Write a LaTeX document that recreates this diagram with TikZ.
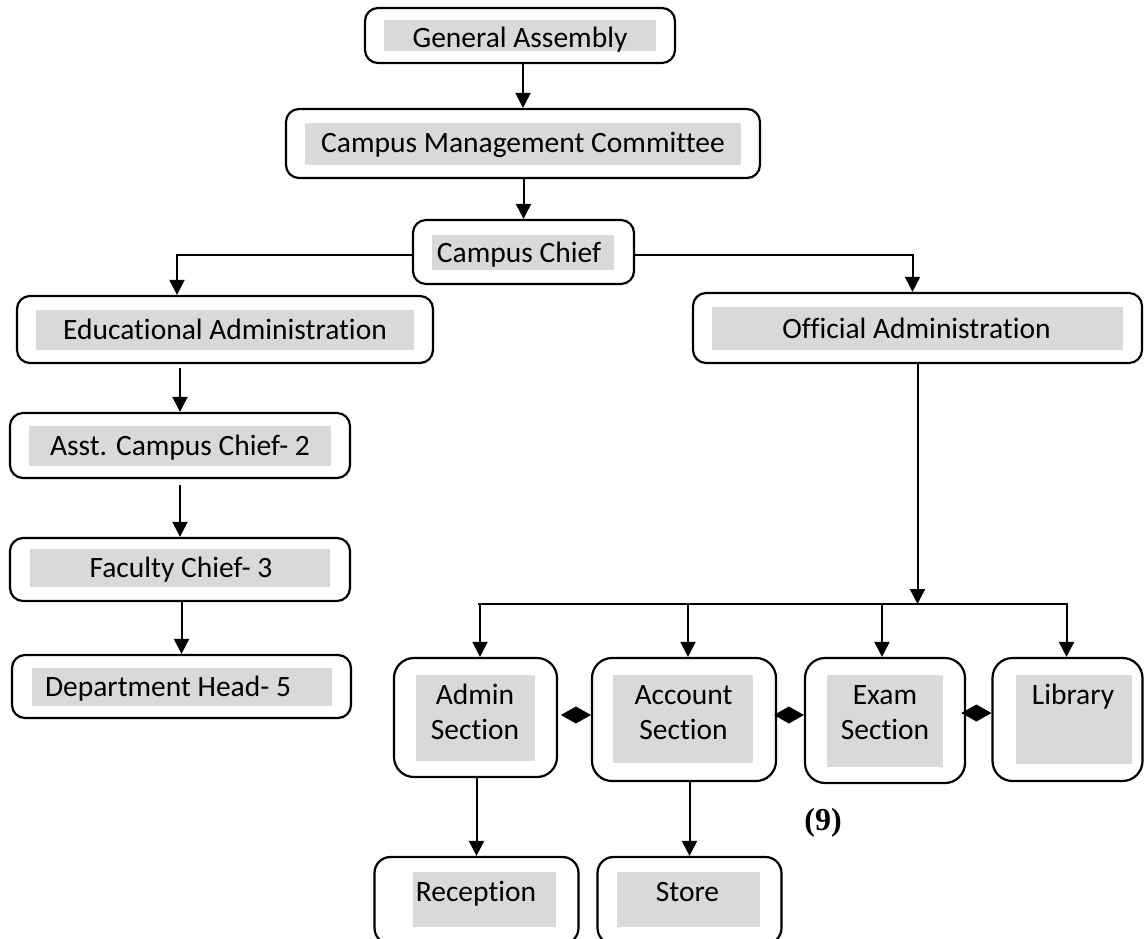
\documentclass[tikz,border=0pt]{standalone}
\usepackage{fontspec}
\setmainfont{Carlito}[Ligatures=NoCommon]
\newfontfamily\numfont{Liberation Serif}
\usetikzlibrary{arrows.meta}
\definecolor{boxgray}{HTML}{D9D9D9}
\begin{document}
\begin{tikzpicture}[x=1pt,y=-1pt,
  obox/.style={draw=black, line width=2.2pt, rounded corners=13pt, inner sep=0pt},
  sbox/.style={obox, rounded corners=20pt},
  txt/.style={inner sep=0pt, anchor=base, font=\fontsize{29.5pt}{35pt}\selectfont},
  numtxt/.style={inner sep=0pt, anchor=base, font=\numfont\bfseries\fontsize{32pt}{35pt}\selectfont},
  conn/.style={line width=2pt},
  arr/.style={conn, -{Triangle[width=15pt,length=15pt]}},
  dia/.style={line width=1pt, -{Diamond[width=17pt,length=30pt]}}
]
\useasboundingbox (0,0) rectangle (1144,939);

% outer boxes
\node[obox, minimum width=310pt, minimum height=55pt] (ga) at (520,35.5) {};
\node[obox, minimum width=474pt, minimum height=69pt] (cmc) at (523,143.5) {};
\node[obox, minimum width=221pt, minimum height=64pt] (cc) at (523.5,252) {};
\node[obox, minimum width=416pt, minimum height=67pt] (ea) at (225,329.5) {};
\node[obox, minimum width=449pt, minimum height=70pt] (oa) at (917.5,328) {};
\node[obox, minimum width=340pt, minimum height=65pt] (asst) at (180,445.5) {};
\node[obox, minimum width=340pt, minimum height=63pt] (fac) at (180,569.5) {};
\node[obox, minimum width=339pt, minimum height=63pt] (dept) at (181.5,686.5) {};
\node[sbox, minimum width=163pt, minimum height=119pt] (adm) at (475.5,717.5) {};
\node[sbox, minimum width=184pt, minimum height=123pt] (acc) at (684,719.5) {};
\node[sbox, minimum width=160pt, minimum height=125pt] (exam) at (885,720.5) {};
\node[sbox, minimum width=150pt, minimum height=123pt] (lib) at (1067.5,719.5) {};
\node[obox, rounded corners=16pt, minimum width=204pt, minimum height=87pt] (rec) at (476.5,900.5) {};
\node[obox, rounded corners=16pt, minimum width=184pt, minimum height=87pt] (sto) at (689.5,900.5) {};

% gray text backgrounds
\fill[boxgray] (384,20) rectangle (656,51);
\fill[boxgray] (305,123) rectangle (741,165);
\fill[boxgray] (432,235) rectangle (614,270);
\fill[boxgray] (36,310) rectangle (414,350);
\fill[boxgray] (712,307) rectangle (1123,350);
\fill[boxgray] (29,426) rectangle (331,466);
\fill[boxgray] (30,549) rectangle (330,587);
\fill[boxgray] (32,668) rectangle (332,706);
\fill[boxgray] (416,675) rectangle (535,761);
\fill[boxgray] (613,675) rectangle (753,763);
\fill[boxgray] (827,675) rectangle (943,767);
\fill[boxgray] (1016,675) rectangle (1132,764);
\fill[boxgray] (413,872) rectangle (556,927);
\fill[boxgray] (617,872) rectangle (760,927);

% texts
\node[txt] (gat) at (520,48) {General Assembly};
\node[txt] (cmct) at (523,153) {Campus Management Committee};
\node[txt] (cct) at (519,262) {Campus Chief};
\node[txt] (eat) at (225,339.5) {Educational Administration};
\node[txt] (oat) at (916.5,338) {Official Administration};
\node[txt] (asstt) at (180,455.5) {Asst. Campus Chief- 2};
\node[txt] (fact) at (181,577.5) {Faculty Chief- 3};
\node[txt] (deptt) at (168,696) {Department Head- 5};
\node[txt] (admt1) at (475,704) {Admin};
\node[txt] (admt2) at (475,739) {Section};
\node[txt] (acct1) at (683.5,704) {Account};
\node[txt] (acct2) at (683.5,739) {Section};
\node[txt] (examt1) at (885,704) {Exam};
\node[txt] (examt2) at (885,739) {Section};
\node[txt] (libt) at (1073,704) {Library};
\node[txt] (rect) at (476,901) {Reception};
\node[txt] (stot) at (687.5,901) {Store};
\node[numtxt] (nine) at (823,830) {(9)};

% connectors
\draw[arr] (cmc.north |- ga.south) -- (cmc.north);
\draw[arr] (cc.north |- cmc.south) -- (cc.north);
\draw[arr] ([yshift=-3pt]cc.west) -| ([xshift=-48pt]ea.north);
\draw[arr] ([yshift=-3pt]cc.east) -| ([xshift=-5pt]oa.north);
\draw[arr, shorten <=4pt] (asst.north |- ea.south) -- (asst.north);
\draw[arr, shorten <=6pt] (fac.north |- asst.south) -- (fac.north);
\draw[arr] (dept.north |- fac.south) -- (dept.north);

\coordinate (busL) at (478,604);
\coordinate (busR) at (1067.5,604);
\coordinate (tA) at (480,604);
\coordinate (tB) at (688,604);
\coordinate (tC) at (882,604);
\coordinate (tD) at (1066.5,604);
\draw[arr] (oa.south) -- (oa.south |- busL);
\draw[conn] (busL) -- (busR);
\draw[arr] (tA) -- (tA |- adm.north);
\draw[arr] (tB) -- (tB |- acc.north);
\draw[arr] (tC) -- (tC |- exam.north);
\draw[arr] (tD) -- (tD |- lib.north);

\draw[arr] (rec.north |- adm.south) -- (rec.north);
\draw[arr] (sto.north |- acc.south) -- (sto.north);

\draw[dia, shorten <=4pt] ([yshift=2.5pt]adm.east) -- ([yshift=4.5pt]acc.west);
\draw[dia, shorten <=0pt] ([yshift=4.5pt]acc.east) -- ([yshift=5.5pt]exam.west);
\draw[dia, shorten <=0pt] ([yshift=7.5pt]exam.east) -- ([yshift=6.5pt]lib.west);
\end{tikzpicture}
\end{document}
